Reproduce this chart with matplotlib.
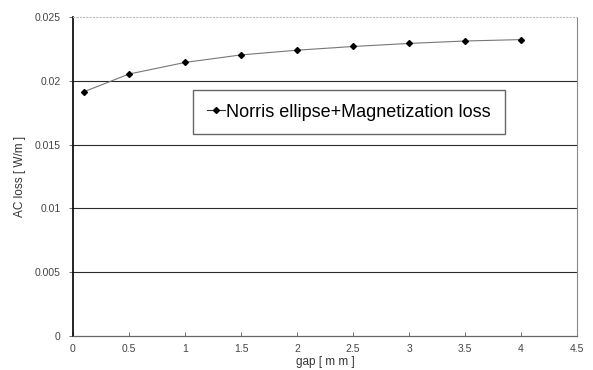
import matplotlib
matplotlib.use("Agg")
import matplotlib.pyplot as plt

gap = [0.1, 0.5, 1.0, 1.5, 2.0, 2.5, 3.0, 3.5, 4.0]
ac_loss = [0.01915, 0.02053, 0.02144, 0.02203, 0.02240, 0.02269, 0.02293, 0.02312, 0.02323]
series_name = "Norris ellipse+Magnetization loss"
x_ticks = [0, 0.5, 1, 1.5, 2, 2.5, 3, 3.5, 4, 4.5]
x_ticklabels = ["0", "0.5", "1", "1.5", "2", "2.5", "3", "3.5", "4", "4.5"]
y_ticks = [0, 0.005, 0.01, 0.015, 0.02, 0.025]
y_ticklabels = ["0", "0.005", "0.01", "0.015", "0.02", "0.025"]

plt.rcParams['font.family'] = ['Liberation Sans', 'DejaVu Sans']

fig = plt.figure(figsize=(5.93, 3.70), dpi=100)
ax = fig.add_axes([0.1231, 0.092, 0.850, 0.862])

for yv in y_ticks[1:-1]:
    ax.axhline(yv, color='#2a2a2a', linewidth=0.8, zorder=1)

ax.plot(gap, ac_loss, color='#777777', linewidth=0.8, marker='D', markersize=3,
        markerfacecolor='black', markeredgecolor='black', zorder=3)
# legend handle (darker line)
ax.plot([], [], color='#333333', linewidth=0.8, marker='D', markersize=3,
        markerfacecolor='black', markeredgecolor='black', label=series_name)

ax.set_xlim(0, 4.5)
ax.set_ylim(0, 0.025)
ax.set_xticks(x_ticks)
ax.set_xticklabels(x_ticklabels)
ax.set_yticks(y_ticks)
ax.set_yticklabels(y_ticklabels)
ax.tick_params(axis='both', labelsize=7.5, colors='#555555', labelcolor='#444444', length=3, width=0.6)
ax.tick_params(axis='x', direction='in', pad=6)
ax.tick_params(axis='y', direction='out', pad=6)

ax.spines['left'].set_color('black')
ax.spines['left'].set_linewidth(1.2)
ax.spines['bottom'].set_color('#666666')
ax.spines['bottom'].set_linestyle((0, (2, 1)))
ax.spines['bottom'].set_linewidth(0.9)
ax.spines['top'].set_color('#bbbbbb')
ax.spines['top'].set_linestyle((0, (1, 2)))
ax.spines['top'].set_linewidth(0.8)
ax.spines['right'].set_color('#888888')
ax.spines['right'].set_linestyle((0, (2, 1)))
ax.spines['right'].set_linewidth(0.8)

ax.set_xlabel("gap [ m m ]", fontsize=8.5, color='#333333', labelpad=1)
ax.set_ylabel("AC loss [ W/m ]", fontsize=8.5, color='#333333', labelpad=6)

leg = ax.legend(loc='center', bbox_to_anchor=(0.238, 0.633, 0.619, 0.138), mode='expand',
                borderaxespad=0, fontsize=13, frameon=True, fancybox=False, handlelength=1.0,
                handletextpad=0.1, borderpad=0.75)
leg.get_frame().set_edgecolor('#666666')
leg.get_frame().set_linewidth(1.0)
leg.get_frame().set_alpha(1)

fig.savefig("out.png", dpi=100)
